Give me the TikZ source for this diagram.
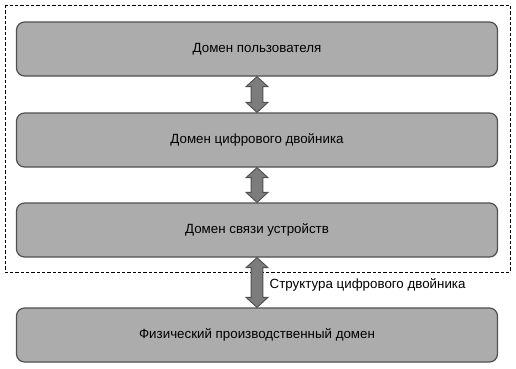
\documentclass[tikz,border=0pt]{standalone}
\usepackage{fontspec}
\setmainfont{Liberation Sans}
\usetikzlibrary{shapes.arrows,calc}
\definecolor{boxgray}{HTML}{ACACAC}
\definecolor{arrgray}{HTML}{7C7C7C}
\definecolor{edgegray}{HTML}{505050}
\tikzset{
  domainbox/.style={draw=edgegray, fill=boxgray, rounded corners=6pt, line width=0.9pt,
    minimum width=360.75pt, minimum height=40.5pt, inner sep=0pt,
    font=\fontsize{10}{12}\selectfont},
  dblarrow/.style={double arrow, draw=edgegray, fill=arrgray, line width=0.7pt,
    shape border rotate=90, inner sep=4.1pt, double arrow head extend=3.75pt,
    double arrow tip angle=95}
}
\begin{document}
\begin{tikzpicture}[x=0.75pt, y=-0.75pt]
    \useasboundingbox (0,0) rectangle (516,368);
    % рамка структуры цифрового двойника
    \draw[dash pattern=on 2.5pt off 1.5pt, line width=0.6pt] (5,5) rectangle (510,272);
    % домены
    \node[domainbox] (user) at (257,49) {Домен пользователя};
    \node[domainbox] (twin) at (257,140) {Домен цифрового двойника};
    \node[domainbox] (comm) at (257,230) {Домен связи устройств};
    \node[domainbox] (phys) at (257,335) {Физический производственный домен};
    % двойные стрелки между доменами
    \path let \p1=($(user.south)-(twin.north)$) in
      node[dblarrow, minimum height={veclen(\x1,\y1)}] (a1) at ($(user.south)!0.5!(twin.north)$) {};
    \path let \p1=($(twin.south)-(comm.north)$) in
      node[dblarrow, minimum height={veclen(\x1,\y1)}] (a2) at ($(twin.south)!0.5!(comm.north)$) {};
    \path let \p1=($(comm.south)-(phys.north)$) in
      node[dblarrow, minimum height={veclen(\x1,\y1)}] (a3) at ($(comm.south)!0.5!(phys.north)$) {};
    % подпись рамки
    \node[anchor=west, font=\fontsize{10}{12}\selectfont] (frame) at (265,285) {Структура цифрового двойника};
\end{tikzpicture}
\end{document}
